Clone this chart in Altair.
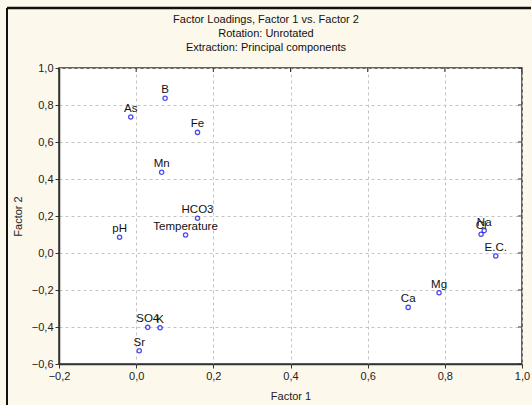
import altair as alt
import pandas as pd

# Factor loadings of each variable on the first two principal components
variables = ["B", "As", "Fe", "Mn", "HCO3", "Temperature", "pH", "SO4", "K",
             "Sr", "Na", "Cl", "E.C.", "Mg", "Ca"]
factor1 = [0.075, -0.014, 0.159, 0.066, 0.159, 0.128, -0.043, 0.030, 0.062,
           0.008, 0.902, 0.894, 0.932, 0.785, 0.705]
factor2 = [0.836, 0.735, 0.652, 0.436, 0.188, 0.097, 0.085, -0.402, -0.404,
           -0.528, 0.121, 0.101, -0.016, -0.215, -0.294]

x_ticks = [-0.2, 0.0, 0.2, 0.4, 0.6, 0.8, 1.0]
y_ticks = [-0.6, -0.4, -0.2, 0.0, 0.2, 0.4, 0.6, 0.8, 1.0]

title_lines = ["Factor Loadings, Factor 1  vs. Factor 2",
               "Rotation: Unrotated",
               "Extraction: Principal components"]

df = pd.DataFrame({"var": variables, "f1": factor1, "f2": factor2})
xt = pd.DataFrame({"v": x_ticks})
yt = pd.DataFrame({"v": y_ticks})

FONT = "Liberation Sans"
W, H = 463, 296
comma = "replace(format(datum.value, '.1f'), '.', ',')"

xscale = alt.Scale(domain=[-0.2, 1.0], nice=False, zero=False)
yscale = alt.Scale(domain=[-0.6, 1.0], nice=False, zero=False)

common = dict(grid=True, gridDash=[3, 3], gridColor="#c4c4c4",
              domainColor="#333333", domainWidth=1.5,
              tickColor="#333333", tickSize=4, labelPadding=2,
              labelFlush=False, labelOverlap=False,
              labelFont=FONT, labelFontSize=11, labelColor="#222222",
              titleFont=FONT, titleFontSize=11, titleFontWeight="normal",
              titleColor="#222222")
xaxis = alt.Axis(values=x_ticks, labelExpr=comma, title="Factor 1",
                 titlePadding=9, **common)
yaxis = alt.Axis(values=y_ticks, labelExpr=comma, title="Factor 2",
                 titlePadding=8, **common)

points = alt.Chart(df).mark_point(
    shape="circle", filled=False, color="#0000ee", size=18, strokeWidth=1.3
).encode(
    x=alt.X("f1:Q", scale=xscale, axis=xaxis),
    y=alt.Y("f2:Q", scale=yscale, axis=yaxis),
)

labels = alt.Chart(df).mark_text(
    font=FONT, fontSize=11.5, color="#111111", baseline="bottom", dy=-3
).encode(
    x=alt.X("f1:Q", scale=xscale, axis=xaxis),
    y=alt.Y("f2:Q", scale=yscale, axis=yaxis),
    text="var:N",
)

# three-line heading centred over the whole figure
heading = [
    alt.Chart(pd.DataFrame({"line": [txt]})).mark_text(
        font=FONT, fontSize=11, color="#111111", baseline="middle", clip=False
    ).encode(x=alt.value(207), y=alt.value(-48 + 14 * i), text="line:N")
    for i, txt in enumerate(title_lines)
]

# inward tick marks along the top and right edges of the plot frame
top_ticks = alt.Chart(xt).mark_rule(color="#333333", strokeWidth=1).encode(
    x=alt.X("v:Q", scale=xscale, axis=xaxis), y=alt.value(0), y2=alt.value(4))
right_ticks = alt.Chart(yt).mark_rule(color="#333333", strokeWidth=1).encode(
    y=alt.Y("v:Q", scale=yscale, axis=yaxis), x=alt.value(W - 4), x2=alt.value(W))

# outer figure border (left and top)
border_left = alt.Chart(xt.head(1)).mark_rule(
    color="#111111", strokeWidth=2, clip=False
).encode(x=alt.value(-52), y=alt.value(-60), y2=alt.value(H + 45))
border_top = alt.Chart(xt.head(1)).mark_rule(
    color="#111111", strokeWidth=2.5, clip=False
).encode(x=alt.value(-52), x2=alt.value(W + 9), y=alt.value(-60))

chart = alt.layer(
    top_ticks, right_ticks, points, labels, *heading, border_left, border_top
).properties(
    width=W, height=H,
    background="#fdf8ec",
    padding={"left": 59, "top": 68, "right": 10, "bottom": 41},
    autosize=alt.AutoSizeParams(type="none"),
).configure_view(
    stroke="#333333", strokeWidth=1.5, fill="white"
)

chart.save("out.html", embed_options={"renderer": "svg", "actions": False})
